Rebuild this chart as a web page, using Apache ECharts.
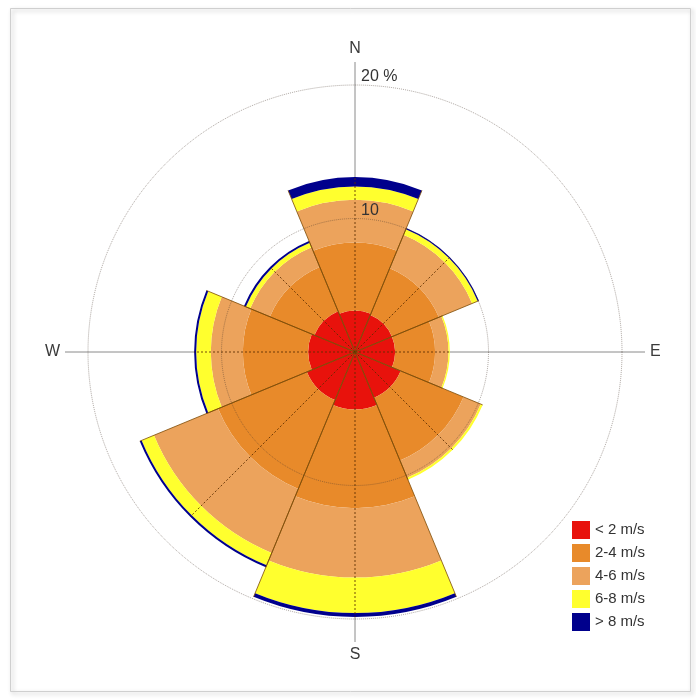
<!DOCTYPE html>
<html><head><meta charset="utf-8">
<script src="https://cdn.jsdelivr.net/npm/echarts@6/dist/echarts.min.js"></script>
<style>html,body{margin:0;padding:0;background:#fff}#c{width:696px;height:700px}</style>
</head><body><div id="c"></div>
<script>
// Wind directions (45° sectors, clockwise from North)
const directions = ['N', 'NE', 'E', 'SE', 'S', 'SW', 'W', 'NW'];
const speedClasses = ['< 2 m/s', '2-4 m/s', '4-6 m/s', '6-8 m/s', '> 8 m/s'];
// Frequency (%) of each speed class per direction
const below2   = [3.1, 3.0, 3.0, 3.7, 4.3, 3.9, 3.5, 3.3];
const from2to4 = [5.1, 3.8, 3.0, 5.1, 7.4, 7.2, 4.9, 3.6];
const from4to6 = [3.2, 2.7, 1.0, 1.4, 5.2, 5.2, 2.4, 1.6];
const from6to8 = [1.0, 0.45, 0.1, 0.15, 2.65, 1.0, 1.1, 0.35];
const above8   = [0.7, 0.1, 0.0, 0.0, 0.3, 0.15, 0.15, 0.15];
const compassLabels = {0: 'N', 90: 'E', 180: 'S', 270: 'W'};
const radiusLabels = {10: '10', 20: '20 %'};

const classData = [below2, from2to4, from4to6, from6to8, above8];
const colors = ['#e8120c', '#e88a2a', '#eca35c', '#ffff2e', '#00008c'];
const totals = directions.map((d, i) => classData.reduce((s, arr) => s + arr[i], 0));

const FONT = 'Liberation Sans, Arial, sans-serif';
const chart = echarts.init(document.getElementById('c'));

const barSeries = speedClasses.map((name, k) => ({
  type: 'bar', name: name, coordinateSystem: 'polar', polarIndex: 0,
  stack: 'wind', data: classData[k], barCategoryGap: '0%',
  itemStyle: {color: colors[k], borderWidth: 0},
  emphasis: {disabled: true}, z: 2
}));

const spokes = {
  type: 'custom', coordinateSystem: 'polar', polarIndex: 0, z: 3,
  silent: true,
  encode: {radius: 0, angle: 1},
  data: totals.map((t, i) => [t, i]),
  renderItem: function (params, api) {
    const total = api.value(0), idx = api.value(1);
    const c = api.coord([0, idx]);
    const p = api.coord([total, idx]);
    const dx = p[0] - c[0], dy = p[1] - c[1];
    const rot = a => [c[0] + dx * Math.cos(a) - dy * Math.sin(a), c[1] + dx * Math.sin(a) + dy * Math.cos(a)];
    const e1 = rot(Math.PI / 8), e2 = rot(-Math.PI / 8);
    const edge = {stroke: 'rgba(125,75,5,0.8)', lineWidth: 1};
    return {type: 'group', children: [
      {type: 'line', shape: {x1: c[0], y1: c[1], x2: e1[0], y2: e1[1]}, style: edge},
      {type: 'line', shape: {x1: c[0], y1: c[1], x2: e2[0], y2: e2[1]}, style: edge},
      {type: 'line', shape: {x1: c[0], y1: c[1], x2: p[0], y2: p[1]},
        style: {stroke: 'rgba(90,45,0,0.85)', lineWidth: 1, lineDash: [2, 2]}}
    ]};
  }
};

const hidden = {axisLine: {show: false}, axisTick: {show: false}, axisLabel: {show: false}, splitLine: {show: false}};

chart.setOption({
  animation: false,
  backgroundColor: '#fff',
  textStyle: {fontFamily: FONT},
  polar: [
    {center: [355, 352], radius: 267},
    {center: [355, 352], radius: 290},
    {center: [355, 352], radius: 267}
  ],
  angleAxis: [
    Object.assign({polarIndex: 0, type: 'category', data: directions, startAngle: 112.5, clockwise: true}, hidden),
    {polarIndex: 1, type: 'value', min: 0, max: 360, interval: 90, startAngle: 90, clockwise: true,
      axisLine: {show: false}, axisTick: {show: false},
      axisLabel: {show: true, margin: 5, fontSize: 16, color: '#3a3a3a', fontFamily: FONT,
        formatter: v => compassLabels[v] || ''},
      splitLine: {show: true, lineStyle: {color: '#8a8a8a', width: 1}}},
    Object.assign({polarIndex: 2, type: 'value', min: 0, max: 360, startAngle: 90, clockwise: true}, hidden)
  ],
  radiusAxis: [
    Object.assign({polarIndex: 0, type: 'value', min: 0, max: 20}, hidden),
    {polarIndex: 1, type: 'value', min: 0, max: 1, show: false},
    {polarIndex: 2, type: 'value', min: 0, max: 20, interval: 10, z: 5,
      axisLine: {show: false}, axisTick: {show: false},
      axisLabel: {show: true, fontSize: 16, color: '#333', fontFamily: FONT,
        margin: -6, align: 'left', verticalAlign: 'bottom',
        formatter: v => radiusLabels[v] || ''},
      splitLine: {show: true, lineStyle: {color: 'rgba(70,55,45,0.45)', width: 1, type: 'dotted'}}}
  ],
  legend: {
    data: speedClasses, orient: 'vertical', left: 567, top: 516,
    itemWidth: 18, itemHeight: 18, itemGap: 5, icon: 'rect',
    textStyle: {fontSize: 15, color: '#333', fontFamily: FONT},
    selectedMode: false
  },
  graphic: [{
    type: 'rect', left: 8, top: 6, z: -1, silent: true,
    shape: {width: 680, height: 683},
    style: {fill: 'none', stroke: '#cfcfcf', lineWidth: 1,
      shadowBlur: 4, shadowColor: 'rgba(0,0,0,0.3)', shadowOffsetX: 2, shadowOffsetY: 2}
  }],
  series: barSeries.concat([spokes])
});
</script></body></html>
